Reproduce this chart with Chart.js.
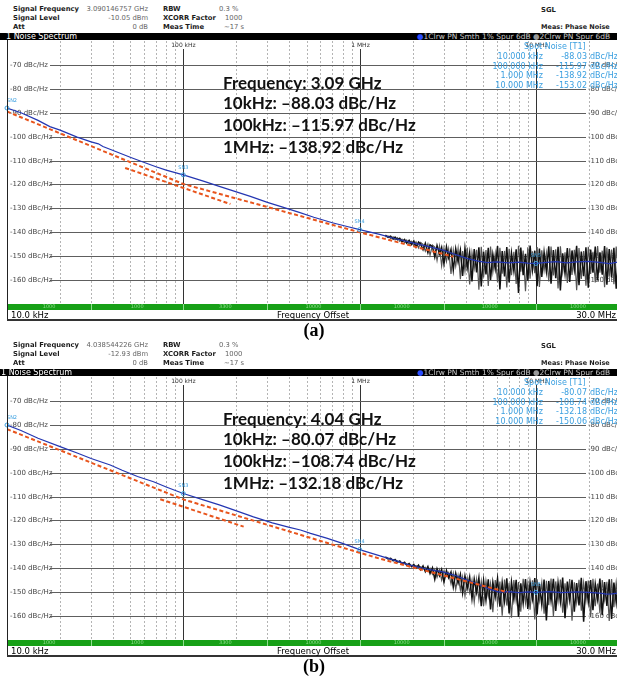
<!DOCTYPE html>
<html>
<head>
<meta charset="utf-8">
<script src="https://cdn.jsdelivr.net/npm/chart.js@4.4.1/dist/chart.umd.min.js"></script>
<style>
  body { margin: 0; width: 617px; height: 681px; overflow: hidden; background: #fff; font-family: "DejaVu Sans", sans-serif; }
  .panel { position: absolute; left: 0; width: 617px; height: 345px; }
  .t { position: absolute; white-space: nowrap; line-height: 10px; }
  .lbl { font-size: 6.8px; font-weight: bold; color: #1c1c1c; }
  .val { font-size: 6.8px; color: #666; }
  .bar { position: absolute; left: 0; top: 33px; width: 617px; height: 7px; background: #000; }
  .spot { font-size: 8px; color: #3a9fe0; }
  .note { position: absolute; left: 223px; font-family: Lato, sans-serif; font-weight: bold; font-size: 17px; line-height: 21px; color: #111; white-space: nowrap; }
  .cap { position: absolute; width: 60px; text-align: center; font-family: "Liberation Serif", serif; font-weight: bold; font-size: 18px; line-height: 20px; }
  .wrap { position: absolute; left: 0; top: 40px; width: 617px; height: 271px; overflow: hidden; }
</style>
</head>
<body>
<script>
// frequency offsets in kHz, levels in dBc/Hz

// 3.09 GHz measurement
const blueFreqA = [10, 12, 15, 17.5, 20, 25, 30, 33, 35, 40, 50, 57, 70, 80, 100, 130, 160, 200, 240, 300, 370, 450, 550, 700, 850, 1000, 1300, 1600, 2000, 2500, 3000, 3500, 4100, 4700, 5300, 6000, 7000, 8000, 9000, 10000, 11500, 13000, 15000, 17000, 20000, 23000, 26000, 28000, 30000];
const blueA = [-88.03, -90.0, -93.2, -95.8, -97.3, -100.2, -102.2, -103.0, -104.1, -105.8, -108.6, -110.2, -112.6, -114.0, -115.97, -118.6, -120.8, -123.1, -125.0, -127.5, -129.6, -131.6, -133.7, -136.0, -137.6, -138.92, -140.9, -142.7, -144.4, -146.1, -147.6, -149.3, -151.0, -152.1, -152.7, -152.4, -152.8, -152.5, -152.9, -153.02, -152.6, -152.3, -152.8, -152.4, -152.2, -152.6, -153.1, -152.7, -152.4];
const redFreqA1 = [10, 100, 1000, 3400];
const redA1 = [-89.5, -119.8, -140.0, -150.2];
const redFreqA2 = [46.8, 185];
const redA2 = [-113.1, -128.2];

// 4.04 GHz measurement
const blueFreqB = [10, 12, 15, 20, 25, 30, 38.5, 45, 55, 67.8, 80, 100, 130, 160, 193, 250, 320, 400, 462, 527, 650, 800, 1000, 1320, 1600, 1900, 2400, 3000, 3500, 4200, 4900, 5500, 6200, 7000, 8000, 9000, 10000, 12000, 14000, 17000, 20000, 23000, 25000, 27000, 30000];
const blueB = [-80.07, -82.4, -85.6, -89.1, -91.8, -94.1, -96.8, -99.0, -101.6, -103.8, -106.0, -108.74, -111.4, -113.5, -115.6, -118.5, -121.0, -122.9, -124.0, -125.4, -127.4, -129.6, -132.18, -134.9, -136.8, -138.6, -140.3, -141.6, -143.0, -145.3, -147.2, -148.8, -150.0, -149.8, -150.2, -149.9, -150.06, -149.8, -150.2, -149.9, -150.1, -150.4, -150.8, -150.7, -150.3];
const redFreqB1 = [10, 100, 1000, 1320, 6900];
const redB1 = [-81.8, -111.2, -133.5, -136.1, -150.0];
const redFreqB2 = [74, 220];
const redB2 = [-111.1, -122.6];

// raw traces near the noise floor, offsets in MHz
const noiseFreqs = [1.40, 1.45,
  1.50, 1.55, 1.59, 1.64, 1.69, 1.74, 1.80, 1.85, 1.91, 1.97,
  2.03, 2.09, 2.16, 2.22, 2.29, 2.36, 2.44, 2.51, 2.59, 2.67,
  2.75, 2.84, 2.92, 3.01, 3.11, 3.20, 3.30, 3.40, 3.51, 3.62,
  3.73, 3.84, 3.96, 4.08, 4.21, 4.34, 4.47, 4.61, 4.75, 4.90,
  5.05, 5.21, 5.37, 5.53, 5.70, 5.88, 6.06, 6.25, 6.44, 6.64,
  6.84, 7.05, 7.27, 7.50, 7.73, 7.97, 8.21, 8.47, 8.73, 9.00,
  9.27, 9.56, 9.86, 10.16, 10.47, 10.80, 11.13, 11.47, 11.83, 12.19,
  12.57, 12.96, 13.36, 13.77, 14.19, 14.63, 15.08, 15.55, 16.03, 16.52,
  17.03, 17.56, 18.10, 18.66, 19.23, 19.83, 20.44, 21.07, 21.72, 22.39,
  23.08, 23.79, 24.53, 25.28, 26.06, 26.87, 27.70, 28.55, 29.43, 30.00];
const noiseA = [-141.2, -142.1,
  -141.6, -142.9, -142.0, -143.1, -142.5, -143.9, -143.0, -144.6, -143.4, -145.1,
  -143.6, -146.2, -144.1, -145.0, -147.3, -144.6, -148.5, -145.2, -146.0, -150.4,
  -145.5, -149.1, -146.3, -153.2, -146.0, -150.7, -147.2, -155.8, -146.9, -152.4,
  -147.5, -158.3, -146.7, -154.9, -148.4, -160.6, -147.0, -156.8, -146.3, -162.7,
  -148.1, -157.6, -146.5, -159.9, -149.2, -155.3, -145.8, -163.9, -147.9, -158.5,
  -146.2, -161.0, -148.6, -156.2, -147.1, -165.4, -146.4, -157.9, -149.0, -160.3,
  -145.6, -155.8, -147.7, -162.6, -146.8, -158.7, -148.3, -156.4, -145.9, -161.5,
  -147.4, -159.2, -146.1, -164.3, -148.8, -157.3, -146.6, -160.8, -147.6, -155.6,
  -145.7, -162.1, -148.1, -158.4, -146.3, -163.2, -147.2, -156.9, -146.0, -160.1,
  -148.4, -157.7, -145.8, -161.9, -147.0, -158.8, -146.5, -163.6, -147.8, -157.2];
const noiseA2 = [-142.0, -141.5,
  -142.6, -141.9, -143.2, -142.3, -143.8, -142.9, -144.4, -143.3, -145.0, -143.8,
  -145.6, -144.0, -146.5, -144.3, -145.1, -147.9, -144.9, -149.6, -145.4, -146.2,
  -151.8, -145.8, -154.0, -146.6, -152.2, -147.0, -157.4, -147.4, -154.1, -146.8,
  -159.6, -147.9, -156.2, -146.4, -161.8, -148.6, -155.1, -147.3, -164.0, -146.1,
  -158.9, -147.4, -162.5, -146.0, -156.7, -148.9, -160.9, -146.5, -157.3, -147.8,
  -163.1, -146.9, -158.0, -148.2, -161.6, -145.7, -156.5, -147.6, -164.7, -146.3,
  -159.4, -148.0, -157.1, -146.2, -162.9, -147.5, -155.9, -148.7, -160.6, -146.0,
  -158.1, -147.1, -163.5, -145.9, -156.8, -148.4, -161.2, -146.7, -157.9, -147.3,
  -164.2, -146.6, -159.5, -147.9, -162.3, -146.1, -157.4, -148.2, -161.0, -145.8,
  -156.9, -147.7, -163.0, -146.4, -158.6, -147.2, -161.7, -146.0, -159.1, -147.5];
const noiseB = [-135.2, -136.1,
  -135.8, -136.9, -136.3, -137.4, -136.9, -138.1, -137.5, -138.7, -138.0, -139.3,
  -138.4, -139.9, -138.7, -140.6, -139.0, -141.4, -139.3, -142.2, -139.8, -144.6,
  -140.2, -143.1, -140.5, -145.8, -140.9, -144.0, -141.6, -147.9, -142.1, -146.2,
  -142.5, -150.3, -143.2, -148.4, -143.6, -152.7, -144.5, -150.1, -144.0, -155.9,
  -145.1, -153.4, -144.6, -157.2, -145.8, -152.0, -144.3, -156.1, -146.0, -153.8,
  -144.2, -158.9, -145.7, -153.1, -144.8, -160.4, -146.3, -154.6, -144.5, -157.0,
  -145.9, -152.8, -144.1, -159.3, -146.4, -155.2, -144.7, -161.8, -145.3, -153.6,
  -144.4, -157.8, -146.1, -154.0, -143.9, -160.9, -145.6, -153.3, -144.8, -158.2,
  -146.2, -155.5, -144.0, -162.4, -145.4, -154.1, -144.9, -157.5, -146.5, -153.0,
  -144.3, -159.6, -145.8, -155.7, -144.6, -161.2, -146.0, -154.4, -144.2, -157.9];
const noiseB2 = [-135.6, -135.7,
  -136.3, -136.4, -136.9, -137.0, -137.5, -137.6, -138.1, -138.2, -138.7, -138.8,
  -139.2, -138.9, -139.7, -139.3, -140.3, -139.6, -141.2, -140.0, -142.5, -140.4,
  -143.8, -140.6, -144.9, -141.1, -143.2, -141.8, -146.5, -142.0, -148.8, -142.9,
  -149.1, -143.6, -151.6, -144.1, -150.2, -145.0, -154.3, -144.7, -153.0, -145.5,
  -155.8, -145.2, -151.9, -146.3, -158.4, -144.9, -154.7, -145.6, -159.8, -144.7,
  -155.6, -146.1, -160.7, -144.9, -153.9, -145.8, -158.2, -144.4, -154.5, -146.2,
  -157.3, -145.0, -161.4, -144.6, -153.5, -146.0, -159.0, -145.2, -155.4, -144.3,
  -160.1, -145.5, -153.8, -144.7, -158.6, -146.3, -155.0, -144.5, -161.9, -145.9,
  -154.3, -144.8, -157.7, -146.0, -153.6, -145.1, -160.5, -144.4, -155.9, -146.4,
  -158.8, -144.9, -153.2, -145.7, -162.0, -144.5, -156.3, -145.9, -154.8, -144.6];

// spot noise markers
const markerFreqs = [10, 100, 1000, 10000];
const markerNames = ['SN2', 'SN3', 'SN4', 'SN5'];
const markerText = ['10.000 kHz', '100.000 kHz', '1.000 MHz', '10.000 MHz'];
const noteFreqs = ['10kHz', '100kHz', '1MHz'];
const spotA = [-88.03, -115.97, -138.92, -153.02];
const spotB = [-80.07, -108.74, -132.18, -150.06];

// axis labels
const levelTicks = [-70, -80, -90, -100, -110, -120, -130, -140, -150, -160];
const decadeFreqs = [1e5, 1e6, 1e7];
const decadeLabels = ['100 kHz', '1 MHz', '10 MHz'];
const rbwEdges = [1e4, 3e4, 1e5, 3e5, 1e6, 3e6, 1e7, 3e7];
const rbwLabels = ['1000', '1000', '3300', '10000', '10000', '10000', '10000'];

const pts = (fk, vals, scale) => fk.map((f, i) => ({ x: f * scale, y: vals[i] }));

const analyzerLook = {
  id: 'analyzerLook',
  beforeDatasetsDraw(chart) {
    const { ctx, chartArea: a, scales: { x, y } } = chart;
    ctx.save();
    ctx.lineWidth = 1;
    // dashed lines inside each decade
    ctx.strokeStyle = '#b4b4b4';
    ctx.setLineDash([2, 2]);
    for (let d = 1e4; d < 3e7; d *= 10) {
      for (let m = 2; m <= 9; m++) {
        if (d * m > 3e7) break;
        const px = Math.round(x.getPixelForValue(d * m)) + 0.5;
        ctx.beginPath(); ctx.moveTo(px, a.top); ctx.lineTo(px, a.bottom); ctx.stroke();
      }
    }
    ctx.setLineDash([]);
    // solid decade lines, labelled at the top
    ctx.strokeStyle = '#333';
    ctx.fillStyle = '#333';
    ctx.font = '6px "DejaVu Sans"';
    ctx.textAlign = 'center';
    ctx.textBaseline = 'middle';
    decadeFreqs.forEach((f, i) => {
      const px = Math.round(x.getPixelForValue(f)) + 0.5;
      ctx.beginPath(); ctx.moveTo(px, a.top + 8); ctx.lineTo(px, a.bottom); ctx.stroke();
      ctx.fillText(decadeLabels[i], px, a.top + 4.5);
    });
    // level lines with labels on both sides
    ctx.font = '7px "DejaVu Sans"';
    ctx.textAlign = 'left';
    levelTicks.forEach(v => {
      const py = Math.round(y.getPixelForValue(v)) + 0.5;
      ctx.strokeStyle = '#5e5e5e';
      ctx.beginPath(); ctx.moveTo(50, py); ctx.lineTo(586, py); ctx.stroke();
      ctx.fillStyle = '#444';
      ctx.fillText(v + ' dBc/Hz', a.left + 3, py);
      ctx.fillText(v + ' dBc/Hz', 588, py);
    });
    ctx.restore();
  },
  afterDatasetsDraw(chart, args, opts) {
    const { ctx, chartArea: a, scales: { x, y } } = chart;
    ctx.save();
    ctx.strokeStyle = '#3a9fe0';
    ctx.fillStyle = '#3a9fe0';
    ctx.lineWidth = 1;
    ctx.font = '5px "DejaVu Sans"';
    ctx.textAlign = 'center';
    ctx.textBaseline = 'middle';
    markerFreqs.forEach((f, i) => {
      const px = x.getPixelForValue(f * 1000);
      const py = y.getPixelForValue(opts.spots[i]);
      ctx.beginPath(); ctx.arc(px, py, 2, 0, Math.PI * 2); ctx.stroke();
      ctx.fillText(markerNames[i], Math.max(px, a.left + 5), py - 7.5);
    });
    ctx.restore();
  },
  afterDraw(chart) {
    const { ctx, chartArea: a, scales: { x } } = chart;
    const top = a.bottom;
    ctx.save();
    ctx.fillStyle = '#17a017';
    ctx.fillRect(a.left, top, a.right - a.left, 6);
    ctx.font = '5px "DejaVu Sans"';
    ctx.textAlign = 'center';
    ctx.textBaseline = 'middle';
    for (let i = 0; i < rbwLabels.length; i++) {
      const x0 = x.getPixelForValue(rbwEdges[i]);
      const x1 = x.getPixelForValue(rbwEdges[i + 1]);
      ctx.fillStyle = '#8fdc8f';
      if (i > 0) ctx.fillRect(Math.round(x0), top, 1, 6);
      ctx.fillText(rbwLabels[i], (x0 + x1) / 2, top + 3);
    }
    ctx.restore();
  }
};

function txt(parent, text, cls, left, cy, right) {
  const el = document.createElement('div');
  el.className = 't ' + cls;
  el.textContent = text;
  el.style.top = (cy - 5) + 'px';
  if (right) el.style.right = (617 - left) + 'px';
  else el.style.left = left + 'px';
  parent.appendChild(el);
  return el;
}

function buildPanel(p) {
  const panel = document.createElement('div');
  panel.className = 'panel';
  panel.style.top = p.top + 'px';
  document.body.appendChild(panel);

  // measurement header
  txt(panel, 'Signal Frequency', 'lbl', 13, 9);
  txt(panel, p.sigFreq, 'val', 148, 9, true);
  txt(panel, 'RBW', 'lbl', 163, 9);
  txt(panel, '0.3 %', 'val', 219, 9);
  txt(panel, 'Signal Level', 'lbl', 13, 18);
  txt(panel, p.sigLevel, 'val', 148, 18, true);
  txt(panel, 'XCORR Factor', 'lbl', 163, 18);
  txt(panel, '1000', 'val', 225, 18);
  txt(panel, 'Att', 'lbl', 13, 27);
  txt(panel, '0 dB', 'val', 148, 27, true);
  txt(panel, 'Meas Time', 'lbl', 163, 27);
  txt(panel, '~17 s', 'val', 224, 27);
  txt(panel, 'SGL', 'lbl', 541, 10);
  txt(panel, 'Meas: Phase Noise', 'lbl', 541, 27).style.fontSize = '6.5px';

  const bar = document.createElement('div');
  bar.className = 'bar';
  panel.appendChild(bar);
  const title = txt(panel, '1 Noise Spectrum', '', p.titleX, 36.5);
  title.style.cssText += 'font-size:8px;color:#fff;';
  const trc = txt(panel, '', '', 417, 36.5);
  trc.style.cssText += 'font-size:7.5px;color:#c8c8c8;';
  trc.innerHTML = '<span style="color:#2a4cff">\u25CF</span>1Clrw PN Smth 1% Spur 6dB <span style="color:#999">\u25CF</span>2Clrw PN Spur 6dB';

  // plot
  const wrap = document.createElement('div');
  wrap.className = 'wrap';
  const canvas = document.createElement('canvas');
  canvas.width = 630; canvas.height = 271;
  canvas.style.width = '630px'; canvas.style.height = '271px';
  wrap.appendChild(canvas);
  panel.appendChild(wrap);

  new Chart(canvas, {
    type: 'line',
    data: {
      datasets: [
        { data: pts(p.red1F, p.red1, 1000), borderColor: '#e8541c', borderWidth: 2, borderDash: [4, 2.5], order: 0 },
        { data: pts(p.red2F, p.red2, 1000), borderColor: '#e8541c', borderWidth: 2, borderDash: [4, 2.5], order: 0 },
        { data: pts(p.blueF, p.blue, 1000), borderColor: '#2436b2', borderWidth: 1.2, order: 1 },
        { data: pts(noiseFreqs, p.noise, 1e6), borderColor: '#111', borderWidth: 1.5, order: 2 },
        { data: pts(noiseFreqs, p.noise2, 1e6), borderColor: '#555', borderWidth: 1.2, order: 3 }
      ]
    },
    options: {
      responsive: false,
      animation: false,
      devicePixelRatio: 1,
      layout: { padding: { left: 7, right: 10, top: 1, bottom: 7 } },
      elements: { point: { radius: 0 }, line: { tension: 0 } },
      scales: {
        x: { type: 'logarithmic', min: 1e4, max: 3e7, display: false },
        y: { min: -170, max: -60, display: false }
      },
      plugins: {
        legend: { display: false },
        tooltip: { enabled: false },
        analyzerLook: { spots: p.spots }
      }
    },
    plugins: [analyzerLook]
  });

  // frame
  const left = document.createElement('div');
  left.style.cssText = 'position:absolute;left:7px;top:40px;width:1px;height:280px;background:#222;';
  panel.appendChild(left);
  const bottom = document.createElement('div');
  bottom.style.cssText = 'position:absolute;left:7px;top:319px;width:610px;height:1.5px;background:#333;';
  panel.appendChild(bottom);
  txt(panel, '10.0 kHz', '', 11, 315).style.fontSize = '8.5px';
  const fo = txt(panel, 'Frequency Offset', '', 213, 315);
  fo.style.cssText += 'font-size:8.5px;width:200px;text-align:center;';
  txt(panel, '30.0 MHz', '', 616, 315, true).style.fontSize = '8.5px';

  // spot noise table
  txt(panel, 'Spot Noise [T1]', 'spot', 524, 47);
  const rowsY = [57, 66.5, 76, 86];
  markerText.forEach((m, i) => {
    txt(panel, m, 'spot', 543, rowsY[i], true);
    txt(panel, p.spots[i].toFixed(2), 'spot', 587, rowsY[i], true);
    txt(panel, 'dBc/Hz', 'spot', 590, rowsY[i]);
  });

  // summary text
  const lines = ['Frequency: ' + p.carrier].concat(
    noteFreqs.map((f, i) => f + ': \u2013' + Math.abs(p.spots[i]).toFixed(2) + ' dBc/Hz'));
  const tops = [71.5, 92.2, 113.8, 135.5];
  lines.forEach((s, i) => {
    const el = document.createElement('div');
    el.className = 'note';
    el.style.top = tops[i] + 'px';
    el.textContent = s;
    panel.appendChild(el);
  });

  const cap = document.createElement('div');
  cap.className = 'cap';
  cap.style.left = '284px';
  cap.style.top = '320px';
  cap.textContent = p.caption;
  panel.appendChild(cap);
}

buildPanel({
  top: 0, titleX: 6, caption: '(a)', carrier: '3.09 GHz',
  sigFreq: '3.090146757 GHz', sigLevel: '-10.05 dBm',
  blueF: blueFreqA, blue: blueA, red1F: redFreqA1, red1: redA1, red2F: redFreqA2, red2: redA2,
  noise: noiseA, noise2: noiseA2, spots: spotA
});
buildPanel({
  top: 336, titleX: 1, caption: '(b)', carrier: '4.04 GHz',
  sigFreq: '4.038544226 GHz', sigLevel: '-12.93 dBm',
  blueF: blueFreqB, blue: blueB, red1F: redFreqB1, red1: redB1, red2F: redFreqB2, red2: redB2,
  noise: noiseB, noise2: noiseB2, spots: spotB
});
</script>
</body>
</html>
